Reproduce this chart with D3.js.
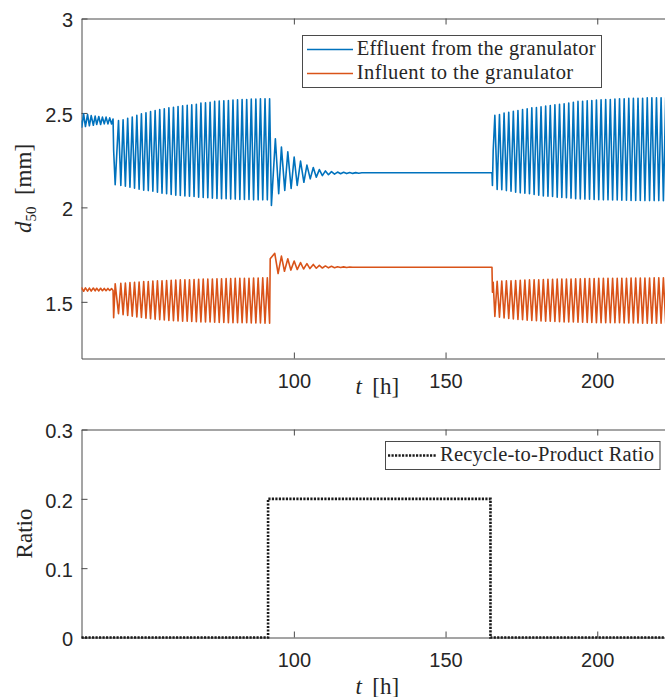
<!DOCTYPE html>
<html>
<head>
<meta charset="utf-8">
<script src="https://cdn.jsdelivr.net/npm/d3@7"></script>
<style>
  html, body { margin: 0; padding: 0; background: #fff; }
  svg { display: block; }
</style>
</head>
<body>
<svg id="chart" width="665" height="697"></svg>
<script>
// ---- Granulator particle size (d50) and recycle ratio, time in hours ----

// Start-up: small oscillation before the loop destabilises (turning points)
const tStart   = [30.00, 30.10, 30.70, 31.30, 32.00, 32.60, 33.20, 33.90, 34.50, 35.00,
                  35.70, 36.30, 36.90, 37.50, 38.10, 38.70, 39.30, 39.90, 40.40];
const effStart = [2.460, 2.425, 2.495, 2.428, 2.492, 2.432, 2.486, 2.435, 2.483, 2.439,
                  2.481, 2.439, 2.478, 2.442, 2.478, 2.442, 2.474, 2.442, 2.468];
const infStart = [1.565, 1.574, 1.556, 1.574, 1.557, 1.573, 1.557, 1.573, 1.558, 1.572,
                  1.558, 1.572, 1.559, 1.571, 1.559, 1.571, 1.560, 1.570, 1.560];

// Sustained oscillation without recycle (turning points)
const tCycle1 = [40.60,
  41.10, 42.20, 42.96, 43.71, 44.46, 45.22, 45.97, 46.73, 47.48, 48.24,
  48.99, 49.75, 50.50, 51.25, 52.01, 52.76, 53.52, 54.27, 55.03, 55.78,
  56.54, 57.29, 58.05, 58.80, 59.56, 60.31, 61.07, 61.82, 62.57, 63.33,
  64.08, 64.84, 65.59, 66.34, 67.10, 67.85, 68.61, 69.36, 70.12, 70.87,
  71.63, 72.38, 73.14, 73.89, 74.65, 75.40, 76.16, 76.91, 77.67, 78.42,
  79.17, 79.93, 80.68, 81.43, 82.19, 82.94, 83.70, 84.45, 85.21, 85.96,
  86.72, 87.47, 88.23, 88.98, 89.74, 90.49, 91.25, 92.00];
const effCycle1 = [2.300,
  2.120, 2.460, 2.116, 2.464, 2.112, 2.472, 2.107, 2.478, 2.102, 2.487,
  2.096, 2.495, 2.091, 2.501, 2.089, 2.508, 2.086, 2.513, 2.080, 2.518,
  2.075, 2.522, 2.072, 2.527, 2.068, 2.530, 2.065, 2.534, 2.063, 2.538,
  2.061, 2.541, 2.059, 2.543, 2.058, 2.546, 2.054, 2.552, 2.052, 2.554,
  2.051, 2.557, 2.049, 2.561, 2.047, 2.563, 2.046, 2.564, 2.046, 2.566,
  2.044, 2.568, 2.044, 2.570, 2.042, 2.571, 2.042, 2.571, 2.042, 2.573,
  2.040, 2.573, 2.040, 2.575, 2.040, 2.575, 2.040, 2.575];
const infCycle1 = [1.416,
  1.596, 1.437, 1.598, 1.432, 1.600, 1.428, 1.602, 1.424, 1.604, 1.420,
  1.605, 1.417, 1.607, 1.414, 1.608, 1.411, 1.610, 1.408, 1.611, 1.406,
  1.612, 1.404, 1.613, 1.402, 1.614, 1.400, 1.615, 1.399, 1.616, 1.398,
  1.617, 1.397, 1.617, 1.396, 1.618, 1.395, 1.619, 1.394, 1.620, 1.393,
  1.620, 1.393, 1.621, 1.392, 1.622, 1.391, 1.622, 1.391, 1.623, 1.390,
  1.623, 1.390, 1.624, 1.389, 1.624, 1.389, 1.625, 1.389, 1.625, 1.388,
  1.626, 1.388, 1.626, 1.388, 1.627, 1.387, 1.627, 1.387];

// Recycle switched on: damped response settling to steady state
const tEffSettle = [92.6, 93.9, 95.0, 95.9, 97.0, 98.0, 99.1, 100.1, 101.1, 102.2,
                    103.3, 104.3, 105.4, 106.4, 107.4, 108.4, 109.4, 110.4, 111.4, 112.4,
                    113.4, 114.4, 115.4, 116.4, 117.4, 118.4, 119.4, 120.4, 121.4, 122.4];
const effSettle  = [2.010, 2.363, 2.072, 2.319, 2.090, 2.294, 2.100, 2.266, 2.116, 2.245,
                    2.133, 2.224, 2.151, 2.211, 2.160, 2.200, 2.168, 2.193, 2.173, 2.189,
                    2.176, 2.187, 2.178, 2.186, 2.179, 2.185, 2.180, 2.184, 2.181, 2.183];
const tInfSettle = [92.2, 93.7, 94.8, 95.9, 96.9, 98.0, 99.0, 100.1, 101.1, 102.2,
                    103.2, 104.3, 105.3, 106.4, 107.4, 108.4, 109.4, 110.4, 111.4, 112.4,
                    113.4, 114.4, 115.4, 116.4, 117.4, 118.4, 119.4];
const infSettle  = [1.728, 1.757, 1.650, 1.742, 1.662, 1.728, 1.668, 1.716, 1.671, 1.708,
                    1.674, 1.702, 1.676, 1.698, 1.678, 1.693, 1.679, 1.690, 1.680, 1.688,
                    1.681, 1.686, 1.682, 1.685, 1.682, 1.684, 1.683];

// Recycle switched off again: oscillation returns (turning points)
const tCycle2 = [165.30, 165.45, 165.70,
  166.25, 167.01, 167.77, 168.53, 169.29, 170.05, 170.82, 171.58, 172.34, 173.10,
  173.86, 174.62, 175.38, 176.14, 176.90, 177.66, 178.43, 179.19, 179.95, 180.71,
  181.47, 182.23, 182.99, 183.75, 184.51, 185.27, 186.04, 186.80, 187.56, 188.32,
  189.08, 189.84, 190.60, 191.36, 192.12, 192.88, 193.65, 194.41, 195.17, 195.93,
  196.69, 197.45, 198.21, 198.97, 199.73, 200.49, 201.26, 202.02, 202.78, 203.54,
  204.30, 205.06, 205.82, 206.58, 207.34, 208.10, 208.87, 209.63, 210.39, 211.15,
  211.91, 212.67, 213.43, 214.19, 214.95, 215.71, 216.48, 217.24, 218.00, 218.76,
  219.52, 220.28, 221.04, 221.80, 222.56, 223.32];
const effCycle2 = [2.183, 2.116, 2.300,
  2.487, 2.095, 2.492, 2.093, 2.499, 2.089, 2.504, 2.086, 2.509, 2.080,
  2.513, 2.077, 2.518, 2.075, 2.522, 2.072, 2.527, 2.068, 2.529, 2.065,
  2.532, 2.061, 2.536, 2.059, 2.539, 2.058, 2.543, 2.054, 2.546, 2.052,
  2.548, 2.051, 2.552, 2.049, 2.557, 2.046, 2.561, 2.045, 2.562, 2.044,
  2.564, 2.043, 2.566, 2.042, 2.568, 2.041, 2.570, 2.040, 2.571, 2.040,
  2.571, 2.039, 2.573, 2.039, 2.575, 2.038, 2.575, 2.038, 2.577, 2.037,
  2.577, 2.037, 2.578, 2.037, 2.578, 2.036, 2.580, 2.036, 2.580, 2.036,
  2.580, 2.036, 2.580, 2.035, 2.580, 2.035];
const infCycle2 = [1.683, 1.551, 1.604,
  1.422, 1.609, 1.418, 1.610, 1.415, 1.611, 1.412, 1.612, 1.409, 1.613,
  1.407, 1.614, 1.405, 1.615, 1.403, 1.616, 1.401, 1.617, 1.400, 1.617,
  1.399, 1.618, 1.398, 1.619, 1.397, 1.619, 1.396, 1.620, 1.395, 1.620,
  1.394, 1.621, 1.393, 1.621, 1.393, 1.622, 1.392, 1.622, 1.392, 1.623,
  1.391, 1.623, 1.391, 1.623, 1.390, 1.624, 1.390, 1.624, 1.390, 1.624,
  1.389, 1.625, 1.389, 1.625, 1.389, 1.625, 1.388, 1.625, 1.388, 1.626,
  1.388, 1.626, 1.388, 1.626, 1.387, 1.626, 1.387, 1.626, 1.387, 1.627,
  1.387, 1.627, 1.387, 1.627, 1.387, 1.627];

// Recycle-to-product ratio (piecewise constant, value holds until next time)
const ratioT = [30, 91.5, 164.8, 225];
const ratioV = [0, 0.2, 0, 0];

// Axis ticks
const tickX = [100, 150, 200];
const tickD50 = [1.5, 2, 2.5, 3];
const tickRatio = [0, 0.1, 0.2, 0.3];

// Series names
const seriesNames = ["Effluent from the granulator", "Influent to the granulator"];
const ratioName = "Recycle-to-Product Ratio";

// ---- layout ----
const svg = d3.select("#chart");
const AX = "#4a4a4a", TXT = "#262626";
const BLUE = "#0072BD", ORANGE = "#D95319";
const SERIF = "'Liberation Serif', 'Times New Roman', serif";
const SANS = "'Liberation Sans', Arial, Helvetica, sans-serif";

const x = d3.scaleLinear().domain([30, 225]).range([81.5, 673.1]);
const yTop = d3.scaleLinear().domain([1.2, 3]).range([358.5, 18.5]);
const yBot = d3.scaleLinear().domain([0, 0.3]).range([637.5, 429.5]);

const effluent = [].concat(
  d3.zip(tStart, effStart), d3.zip(tCycle1, effCycle1),
  d3.zip(tEffSettle, effSettle), d3.zip(tCycle2, effCycle2));
const influent = [].concat(
  d3.zip(tStart, infStart), d3.zip(tCycle1, infCycle1),
  d3.zip(tInfSettle, infSettle), d3.zip(tCycle2, infCycle2));
const ratio = d3.zip(ratioT, ratioV);

const defs = svg.append("defs");
defs.append("clipPath").attr("id", "clipTop").append("rect")
  .attr("x", 81.5).attr("y", 18.5).attr("width", 600).attr("height", 340);
defs.append("clipPath").attr("id", "clipBot").append("rect")
  .attr("x", 80).attr("y", 427).attr("width", 600).attr("height", 214);

function drawFrame(y, ticksY, fmt) {
  const [bottom, top] = y.range();
  const g = svg.append("g");
  g.append("g").attr("transform", `translate(0,${bottom})`)
    .call(d3.axisBottom(x).tickValues(tickX).tickSizeInner(-6).tickSizeOuter(0).tickPadding(15));
  g.append("g").attr("transform", `translate(0,${top})`)
    .call(d3.axisTop(x).tickValues(tickX).tickSizeInner(-6).tickSizeOuter(0).tickFormat(""));
  g.append("g").attr("class", "yaxis").attr("transform", `translate(81.5,0)`)
    .call(d3.axisLeft(y).tickValues(ticksY).tickSizeInner(-6).tickSizeOuter(0).tickPadding(8.5).tickFormat(fmt));
  g.selectAll(".domain").attr("stroke", AX).attr("stroke-width", 1);
  g.selectAll(".tick line").attr("stroke", AX).attr("stroke-width", 1);
  g.selectAll(".tick text").attr("fill", TXT)
    .style("font-family", SANS).style("font-size", "20px");
  g.selectAll(".yaxis .tick text").attr("dy", "0.42em");
  g.selectAll("g").attr("font-family", null).attr("font-size", null);
  return g;
}

drawFrame(yTop, tickD50, d => String(d));
drawFrame(yBot, tickRatio, d => String(d));

// ---- top panel lines ----
const lineTop = d3.line().x(d => x(d[0])).y(d => yTop(d[1]));
const gTop = svg.append("g").attr("clip-path", "url(#clipTop)");
gTop.append("path").datum(influent).attr("d", lineTop)
  .attr("fill", "none").attr("stroke", ORANGE).attr("stroke-width", 1.6).attr("stroke-linejoin", "round");
gTop.append("path").datum(effluent).attr("d", lineTop)
  .attr("fill", "none").attr("stroke", BLUE).attr("stroke-width", 1.6).attr("stroke-linejoin", "round");

// ---- bottom panel line ----
const lineBot = d3.line().x(d => x(d[0])).y(d => yBot(d[1])).curve(d3.curveStepAfter);
svg.append("g").attr("clip-path", "url(#clipBot)")
  .append("path").datum(ratio).attr("d", lineBot)
  .attr("fill", "none").attr("stroke", "#1a1a1a").attr("stroke-width", 2.6)
  .attr("stroke-dasharray", "2.2 1.3");

// ---- axis labels ----
function xLabel(yBase) {
  const t = svg.append("text").attr("x", 377.3).attr("y", yBase)
    .attr("text-anchor", "middle").attr("fill", TXT)
    .style("font-family", SERIF).style("font-size", "23px");
  t.append("tspan").style("font-style", "italic").text("t");
  t.append("tspan").text("\u2009 [h]");
}
xLabel(393.5);
xLabel(693.5);

const yl1 = svg.append("text")
  .attr("transform", `translate(31,${(18.5 + 358.5) / 2}) rotate(-90)`)
  .attr("text-anchor", "middle").attr("fill", TXT)
  .style("font-family", SERIF).style("font-size", "23px");
yl1.append("tspan").style("font-style", "italic").text("d");
yl1.append("tspan").attr("dy", 5).style("font-size", "15px").text("50");
yl1.append("tspan").attr("dy", -5).text("\u2002[mm]");

svg.append("text")
  .attr("transform", `translate(32,${(429.5 + 637.5) / 2}) rotate(-90)`)
  .attr("text-anchor", "middle").attr("fill", TXT)
  .style("font-family", SERIF).style("font-size", "23px")
  .text("Ratio");

// ---- legends ----
const lg = svg.append("g");
lg.append("rect").attr("x", 302.5).attr("y", 35.5).attr("width", 299).attr("height", 52)
  .attr("fill", "#fff").attr("stroke", AX).attr("stroke-width", 1);
[[BLUE, 49.5, 55, 239], [ORANGE, 73.5, 78.5, 216.5]].forEach(([c, ly, ty, w], i) => {
  lg.append("line").attr("x1", 307).attr("x2", 353).attr("y1", ly).attr("y2", ly)
    .attr("stroke", c).attr("stroke-width", 1.6);
  lg.append("text").attr("x", 356.7).attr("y", ty).attr("fill", TXT)
    .attr("textLength", w).attr("lengthAdjust", "spacing")
    .style("font-family", SERIF).style("font-size", "20.5px").text(seriesNames[i]);
});

const lb = svg.append("g");
lb.append("rect").attr("x", 385.5).attr("y", 441.5).attr("width", 274.5).attr("height", 28)
  .attr("fill", "#fff").attr("stroke", AX).attr("stroke-width", 1);
lb.append("line").attr("x1", 388).attr("x2", 437).attr("y1", 455.5).attr("y2", 455.5)
  .attr("stroke", "#1a1a1a").attr("stroke-width", 2.6).attr("stroke-dasharray", "2.2 1.3");
lb.append("text").attr("x", 440).attr("y", 460.5).attr("fill", TXT)
  .attr("textLength", 214).attr("lengthAdjust", "spacing")
  .style("font-family", SERIF).style("font-size", "20.5px").text(ratioName);
</script>
</body>
</html>
